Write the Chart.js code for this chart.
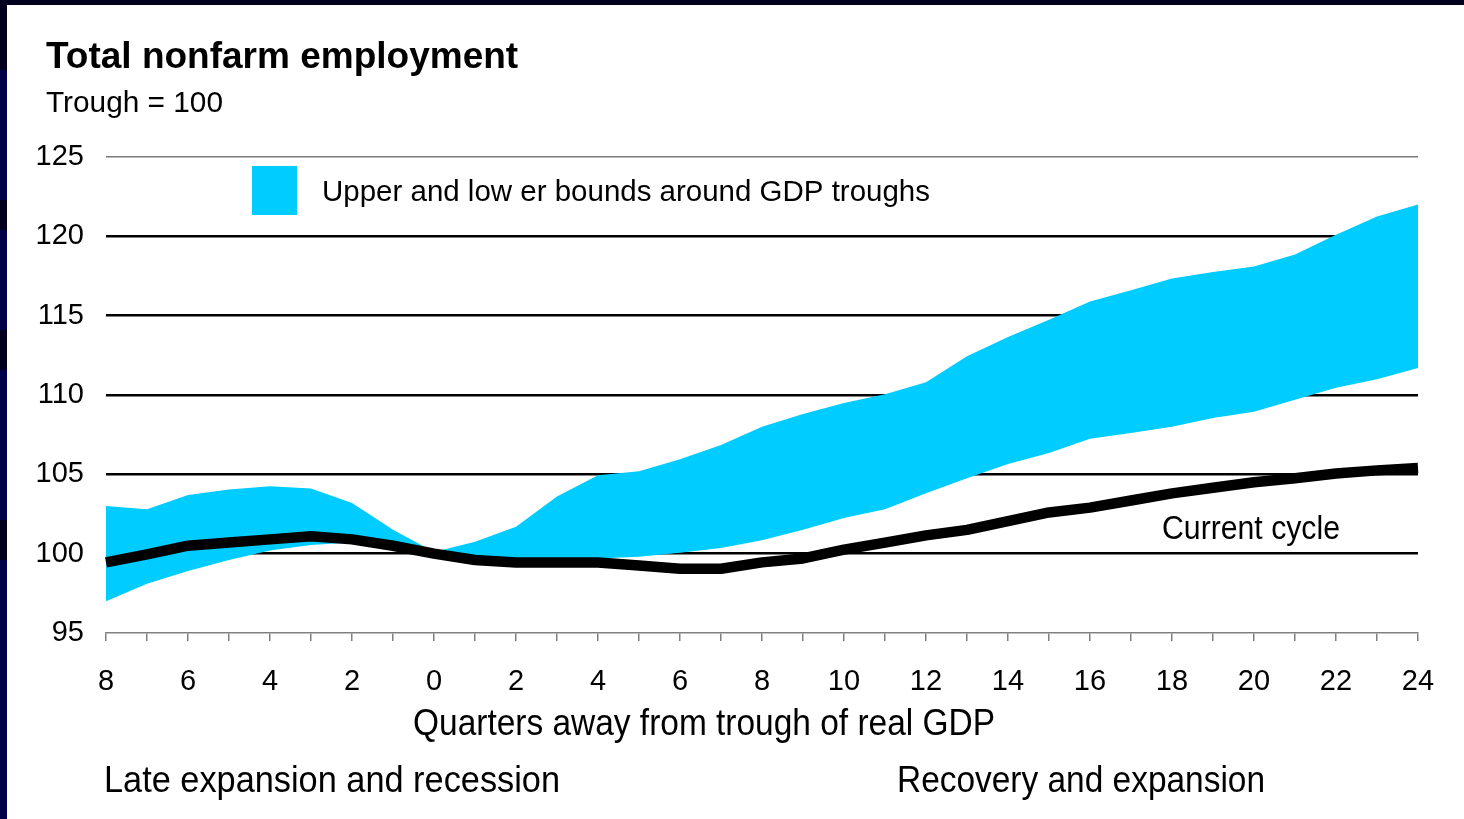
<!DOCTYPE html>
<html>
<head>
<meta charset="utf-8">
<script src="https://cdn.jsdelivr.net/npm/chart.js@4.4.1/dist/chart.umd.min.js"></script>
<style>
  html, body { margin: 0; padding: 0; background: #000040; }
  #wrap { position: absolute; left: 0; top: 0; width: 1464px; height: 819px; }
</style>
</head>
<body>
<div id="wrap"><canvas id="c" width="1464" height="819"></canvas></div>
<script>
// ---- Data ----
const quarters = [-8,-7,-6,-5,-4,-3,-2,-1,0,1,2,3,4,5,6,7,8,9,10,11,12,13,14,15,16,17,18,19,20,21,22,23,24];
const xTickLabels = ["8","6","4","2","0","2","4","6","8","10","12","14","16","18","20","22","24"];
const yTicks = [95,100,105,110,115,120,125];
const upperBound = [103.0,102.8,103.7,104.05,104.25,104.1,103.2,101.5,100.1,
                    100.75,101.7,103.6,104.95,105.2,105.95,106.85,108.0,
                    108.8,109.5,110.05,110.8,112.45,113.65,114.75,115.9,
                    116.6,117.35,117.75,118.1,118.85,120.1,121.25,122.0];
const lowerBound = [97.0,98.1,98.9,99.6,100.2,100.55,100.7,100.4,99.9,
                    99.65,99.6,99.6,99.7,99.8,100.05,100.35,100.85,
                    101.5,102.25,102.8,103.8,104.75,105.65,106.35,107.25,
                    107.6,108.0,108.55,108.95,109.7,110.45,111.0,111.7];
const currentCycle = [99.45,99.95,100.5,100.7,100.9,101.1,100.9,100.5,100.0,
                      99.6,99.45,99.45,99.45,99.25,99.05,99.05,99.45,
                      99.7,100.25,100.7,101.15,101.5,102.05,102.6,102.9,
                      103.35,103.8,104.15,104.5,104.75,105.05,105.25,105.4];

const titleText = "Total nonfarm employment";
const subtitleText = "Trough = 100";
const legendText = "Upper and low er bounds around GDP troughs";
const seriesLabel = "Current cycle";
const xAxisTitle = "Quarters away from trough of real GDP";
const leftNote = "Late expansion and recession";
const rightNote = "Recovery and expansion";

const CYAN = '#00CCFF';
const FONT = '"Liberation Sans", Arial, sans-serif';

const framePlugin = {
  id: 'frame',
  beforeDraw(chart) {
    const ctx = chart.ctx;
    ctx.save();
    ctx.fillStyle = '#000048';
    ctx.fillRect(0, 0, 1464, 819);
    ctx.fillStyle = '#00001e';
    ctx.fillRect(0, 0, 1464, 5);
    ctx.fillRect(0, 0, 7, 70);
    ctx.fillRect(0, 200, 7, 30);
    ctx.fillRect(0, 330, 7, 40);
    ctx.fillRect(0, 520, 7, 40);
    ctx.fillStyle = '#ffffff';
    ctx.fillRect(7, 5, 1457, 814);
    ctx.restore();
  }
};

const textPlugin = {
  id: 'texts',
  afterDraw(chart) {
    const ctx = chart.ctx;
    ctx.save();
    ctx.fillStyle = '#000';
    ctx.textBaseline = 'alphabetic';
    ctx.textAlign = 'left';
    ctx.font = 'bold 37px ' + FONT;
    ctx.fillText(titleText, 46, 68, 474);
    ctx.font = '30px ' + FONT;
    ctx.fillText(subtitleText, 46, 112, 177);
    // legend
    ctx.fillStyle = CYAN;
    ctx.fillRect(252, 166, 45, 49);
    ctx.fillStyle = '#000';
    ctx.font = '30px ' + FONT;
    ctx.fillText(legendText, 322, 201, 608);
    ctx.font = '33px ' + FONT;
    ctx.fillText(seriesLabel, 1162, 539, 178);
    ctx.font = '36px ' + FONT;
    ctx.fillText(xAxisTitle, 413, 735, 582);
    ctx.fillText(leftNote, 104, 792, 456);
    ctx.fillText(rightNote, 897, 792, 368);
    ctx.restore();
  }
};

new Chart(document.getElementById('c'), {
  type: 'line',
  data: {
    labels: quarters,
    datasets: [
      { label: 'Upper', data: upperBound, borderWidth: 0, pointRadius: 0,
        backgroundColor: CYAN, borderColor: CYAN, fill: '+1', order: 3 },
      { label: 'Lower', data: lowerBound, borderWidth: 0, pointRadius: 0,
        backgroundColor: CYAN, borderColor: CYAN, fill: false, order: 2 },
      { label: seriesLabel, data: currentCycle, borderWidth: 10.5, pointRadius: 0,
        borderColor: '#000', backgroundColor: '#000', fill: false, tension: 0,
        borderJoinStyle: 'round', order: 1 }
    ]
  },
  options: {
    responsive: false,
    animation: false,
    layout: { padding: { left: 0, right: 46, top: 157, bottom: 0 } },
    plugins: { legend: { display: false }, tooltip: { enabled: false }, title: { display: false } },
    scales: {
      x: {
        type: 'category',
        offset: false,
        grid: { drawOnChartArea: false, drawTicks: true, tickLength: 8, color: '#808080', lineWidth: 1.5, offset: false },
        border: { display: true, color: '#808080', width: 1.5 },
        ticks: {
          autoSkip: false, maxRotation: 0, padding: 24, color: '#000',
          font: { family: FONT, size: 29 },
          callback: (v, i) => (i % 2 === 0 ? xTickLabels[i / 2] : '')
        },
        afterFit: (s) => { s.height = 819 - 633; }
      },
      y: {
        min: 95, max: 125, z: 1,
        afterBuildTicks: (s) => { s.ticks = yTicks.map(v => ({ value: v })); },
        grid: {
          drawTicks: false,
          color: (c) => c.tick && c.tick.value === 125 ? '#7a7a7a' : (c.tick && c.tick.value === 95 ? 'rgba(0,0,0,0)' : '#000'),
          lineWidth: (c) => c.tick && c.tick.value === 125 ? 1.5 : 2.5
        },
        border: { display: false },
        ticks: { padding: 22, color: '#000', font: { family: FONT, size: 29 }, callback: (v) => String(v) },
        afterFit: (s) => { s.width = 106; }
      }
    }
  },
  plugins: [framePlugin, textPlugin]
});
</script>
</body>
</html>
